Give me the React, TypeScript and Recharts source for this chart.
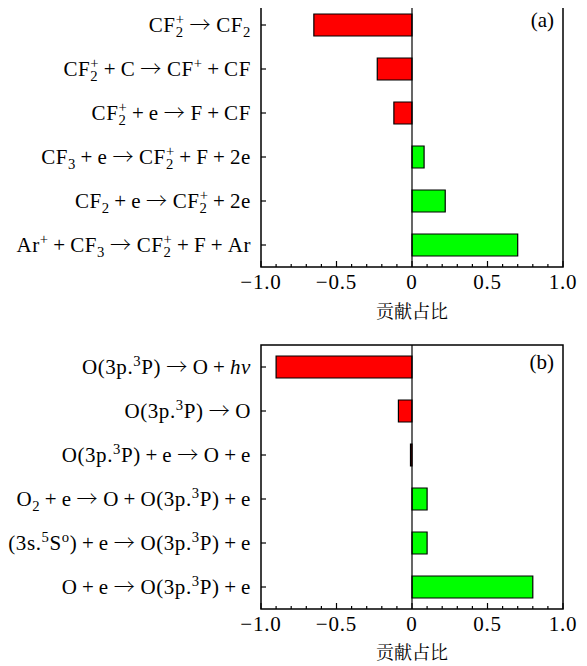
import React from "react";
import {
  BarChart,
  Bar,
  Cell,
  XAxis,
  YAxis,
  ReferenceLine,
  ReferenceArea,
} from "recharts";

// reaction labels use a tiny markup: _{sub}, ^{sup}, *italic*
const CATEGORIES_A = [
  "CF_{2}^{+} → CF_{2}",
  "CF_{2}^{+}+C → CF^{+}+CF",
  "CF_{2}^{+}+e → F+CF",
  "CF_{3}+e → CF_{2}^{+}+F+2e",
  "CF_{2}+e → CF_{2}^{+}+2e",
  "Ar^{+}+CF_{3} → CF_{2}^{+}+F+Ar",
];
const VALUES_A = [-0.65, -0.23, -0.12, 0.08, 0.22, 0.7];

const CATEGORIES_B = [
  "O(3p.^{3}P) → O+*hv*",
  "O(3p.^{3}P) → O",
  "O(3p.^{3}P)+e → O+e",
  "O_{2}+e → O+O(3p.^{3}P)+e",
  "O(3s.^{5}S^{o})+e → O(3p.^{3}P)+e",
  "O+e → O(3p.^{3}P)+e",
];
const VALUES_B = [-0.9, -0.09, -0.01, 0.1, 0.1, 0.8];

const X_TICKS = [
  -1, -0.9, -0.8, -0.7, -0.6, -0.5, -0.4, -0.3, -0.2, -0.1, 0, 0.1, 0.2, 0.3,
  0.4, 0.5, 0.6, 0.7, 0.8, 0.9, 1,
];
const X_LABEL = "贡献占比";

const SERIF = "Liberation Serif";
const ARROW_FONT = "Noto Serif CJK SC";
const CJK = "Noto Serif CJK SC";
const FS = 21;
const SCRIPT = FS * 0.7;
const SUP = -FS * 0.38;
const SUB = FS * 0.26;
const PLUS_GAP = 4.5;
const ARROW_GAP = 5;
const SPACING = 0.6;

function scriptWidth(s: string) {
  let w = 0;
  for (const ch of s) w += (ch === "+" ? 0.564 : 0.5) * SCRIPT + SPACING;
  return w;
}

function renderFormula(src: string) {
  const re =
    /_\{([^}]*)\}\^\{([^}]*)\}|_\{([^}]*)\}|\^\{([^}]*)\}|\*([^*]*)\*|([^_^*]+)/g;
  const out: React.ReactNode[] = [];
  let cur = 0;
  let k = 0;
  let gap = 0;
  let m: RegExpExecArray | null;
  const push = (
    text: string,
    size: number,
    dy: number,
    italic = false,
    dx = 0,
    family = SERIF
  ) => {
    out.push(
      <tspan
        key={k++}
        dx={dx + gap}
        dy={dy}
        fontSize={size}
        fontFamily={family}
        fontStyle={italic ? "italic" : "normal"}
      >
        {text}
      </tspan>
    );
    gap = 0;
  };
  const plain = (text: string, italic: boolean) => {
    // split out binary plus and arrow so they get math-like spacing
    const parts = text.split(/(\+| → )/);
    for (const p of parts) {
      if (!p.length) continue;
      if (p === "+") {
        gap += PLUS_GAP;
        push("+", FS, -cur);
        gap += PLUS_GAP;
      } else if (p === " → ") {
        gap += ARROW_GAP;
        push("→", FS, -cur, false, 0, ARROW_FONT);
        gap += ARROW_GAP;
      } else {
        push(p, FS, -cur, italic);
      }
      cur = 0;
    }
  };
  while ((m = re.exec(src))) {
    if (m[1] !== undefined) {
      push(m[1], SCRIPT, SUB - cur);
      push(m[2], SCRIPT, SUP - SUB, false, -scriptWidth(m[1]));
      cur = SUP;
    } else if (m[3] !== undefined) {
      push(m[3], SCRIPT, SUB - cur);
      cur = SUB;
    } else if (m[4] !== undefined) {
      push(m[4], SCRIPT, SUP - cur);
      cur = SUP;
    } else if (m[5] !== undefined) {
      plain(m[5], true);
    } else if (m[6] !== undefined) {
      plain(m[6], false);
    }
  }
  return out;
}

function CategoryTick(props: any) {
  const { x, y, payload } = props;
  return (
    <g>
      <line x1={x} x2={x + 5} y1={y} y2={y} stroke="#000" strokeWidth={1.2} />
      <text
        x={x - 10}
        y={y + 7}
        textAnchor="end"
        fontFamily={SERIF}
        fontSize={FS}
        letterSpacing={SPACING}
        fill="#000"
      >
        {renderFormula(payload.value)}
      </text>
    </g>
  );
}

function fmtTick(v: number) {
  if (Math.abs(v) < 1e-9) return "0";
  return (v < 0 ? "\u2212" : "") + Math.abs(v).toFixed(1);
}

function ValueTick(props: any) {
  const { x, y, payload } = props;
  const v = payload.value as number;
  const major = Math.abs(v * 2 - Math.round(v * 2)) < 1e-6;
  return (
    <g>
      <line x1={x} x2={x} y1={y} y2={y - (major ? 6 : 3)} stroke="#000" strokeWidth={1.2} />
      {major && (
        <text
          x={x}
          y={y + 22}
          textAnchor="middle"
          fontFamily={SERIF}
          letterSpacing={0.8}
          fontSize={FS}
          fill="#000"
        >
          {fmtTick(v)}
        </text>
      )}
    </g>
  );
}

function Panel({
  categories,
  values,
  tag,
  height,
  top,
  bottom,
  axisHeight,
}: {
  categories: string[];
  values: number[];
  tag: string;
  height: number;
  top: number;
  bottom: number;
  axisHeight: number;
}) {
  const data = categories.map((name, i) => ({ name, value: values[i] }));
  return (
    <BarChart
      width={587}
      height={height}
      data={data}
      layout="vertical"
      margin={{ top, right: 24, bottom, left: 0 }}
      barCategoryGap="25%"
    >
      <XAxis
        type="number"
        domain={[-1, 1]}
        ticks={X_TICKS}
        interval={0}
        axisLine={false}
        tickLine={false}
        tickSize={0}
        tickMargin={0}
        tick={<ValueTick />}
        height={axisHeight}
        label={{
          value: X_LABEL,
          position: "insideBottom",
          offset: 0,
          fontSize: 18,
          fontFamily: CJK,
          fill: "#000",
        }}
      />
      <YAxis
        type="category"
        dataKey="name"
        width={261}
        axisLine={false}
        tickLine={false}
        tickSize={0}
        tickMargin={0}
        interval={0}
        tick={<CategoryTick />}
      />
      <ReferenceArea
        x1={-1}
        x2={1}
        fill="none"
        stroke="#000"
        strokeWidth={1.5}
        label={{
          value: tag,
          position: "insideTopRight",
          offset: 9,
          fontSize: FS,
          fontFamily: SERIF,
          fill: "#000",
        }}
      />
      <Bar dataKey="value" stroke="#000" strokeWidth={1.2} isAnimationActive={false}>
        {data.map((d, i) => (
          <Cell key={i} fill={d.value < 0 ? "#ff0000" : "#00ff00"} />
        ))}
      </Bar>
      <ReferenceLine x={0} stroke="#000" strokeWidth={1.2} />
    </BarChart>
  );
}

export default function App() {
  return (
    <div style={{ margin: "-8px 0 0 -8px", width: 587, background: "#fff" }}>
      <Panel
        categories={CATEGORIES_A}
        values={VALUES_A}
        tag="(a)"
        height={330}
        top={3}
        bottom={12}
        axisHeight={51}
      />
      <Panel
        categories={CATEGORIES_B}
        values={VALUES_B}
        tag="(b)"
        height={336}
        top={15}
        bottom={7}
        axisHeight={50}
      />
    </div>
  );
}
